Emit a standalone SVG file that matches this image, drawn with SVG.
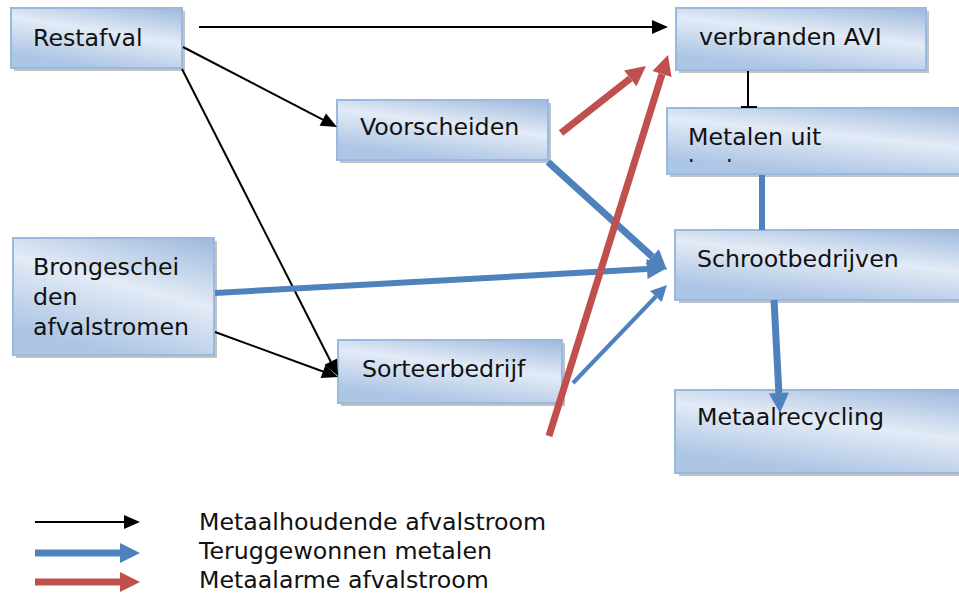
<svg xmlns="http://www.w3.org/2000/svg" width="959" height="594" viewBox="0 0 959 594">
<style>
  .box { fill: url(#gbox); stroke: #9ab9df; stroke-width: 2; }
  .shadow { fill: #8f8f8f; opacity: 0.55; }
  .lbl { font-family: "DejaVu Sans", Verdana, sans-serif; font-size: 23.7px; fill: #111; }
  .blk { stroke: #000; stroke-width: 2; fill: none; }
  .blu { stroke: #4f81bd; stroke-width: 7; fill: none; }
  .red { stroke: #c0504d; stroke-width: 7; fill: none; }
</style>
<defs>
  <linearGradient id="gbox" x1="1" y1="0" x2="0.55" y2="1">
    <stop offset="0" stop-color="#9db8dc"/>
    <stop offset="0.5" stop-color="#e3ebf6"/>
    <stop offset="1" stop-color="#aec6e5"/>
  </linearGradient>
  <marker id="mb" markerUnits="userSpaceOnUse" markerWidth="17" markerHeight="14" refX="0" refY="7" orient="auto" overflow="visible">
    <path d="M0,0 L16,7 L0,14 z" fill="#000"/>
  </marker>
  <marker id="mbl" markerUnits="userSpaceOnUse" markerWidth="20" markerHeight="20" refX="0" refY="10" orient="auto" overflow="visible">
    <path d="M0,0 L20,10 L0,20 z" fill="#4f81bd"/>
  </marker>
  <marker id="mbls" markerUnits="userSpaceOnUse" markerWidth="16" markerHeight="16" refX="0" refY="8" orient="auto" overflow="visible">
    <path d="M0,0 L16,8 L0,16 z" fill="#4f81bd"/>
  </marker>
  <marker id="mr" markerUnits="userSpaceOnUse" markerWidth="20" markerHeight="20" refX="0" refY="10" orient="auto" overflow="visible">
    <path d="M0,0 L20,10 L0,20 z" fill="#c0504d"/>
  </marker>
  <clipPath id="clipMet">
    <rect x="667" y="108" width="292" height="54"/>
  </clipPath>
</defs>

<g id="n-restafval">
  <rect class="shadow" x="14" y="11" width="171" height="60"/>
  <rect class="box" x="11" y="8" width="171" height="60"/>
  <text class="lbl" x="33" y="46">Restafval</text>
</g>
<g id="n-verbranden">
  <rect class="shadow" x="679" y="11" width="250" height="62"/>
  <rect class="box" x="676" y="8" width="250" height="62"/>
  <text class="lbl" x="699" y="45">verbranden AVI</text>
</g>
<g id="n-voorscheiden">
  <rect class="shadow" x="340" y="103" width="211" height="60"/>
  <rect class="box" x="337" y="100" width="211" height="60"/>
  <text class="lbl" x="360" y="135">Voorscheiden</text>
</g>
<g id="n-metalen">
  <rect class="shadow" x="670" y="111" width="292" height="66"/>
  <rect class="box" x="667" y="108" width="296" height="66"/>
  <text class="lbl" x="688" y="145">Metalen uit</text>
  <text class="lbl" x="688" y="177" clip-path="url(#clipMet)">bodemas</text>
</g>
<g id="n-brongescheiden">
  <rect class="shadow" x="16" y="241" width="201" height="117"/>
  <rect class="box" x="13" y="238" width="201" height="117"/>
  <text class="lbl" x="33" y="275">Brongeschei</text>
  <text class="lbl" x="33" y="305">den</text>
  <text class="lbl" x="33" y="335">afvalstromen</text>
</g>
<g id="n-sorteerbedrijf">
  <rect class="shadow" x="341" y="343" width="224" height="63"/>
  <rect class="box" x="338" y="340" width="224" height="63"/>
  <text class="lbl" x="362" y="377">Sorteerbedrijf</text>
</g>
<g id="n-schroot">
  <rect class="shadow" x="679" y="233" width="290" height="70"/>
  <rect class="box" x="675" y="230" width="290" height="70"/>
  <text class="lbl" x="697" y="267">Schrootbedrijven</text>
</g>
<g id="n-metaalrecycling">
  <rect class="shadow" x="679" y="393" width="290" height="83"/>
  <rect class="box" x="675" y="390" width="290" height="83"/>
  <text class="lbl" x="697" y="425">Metaalrecycling</text>
</g>

<g id="connectors">
  <line class="blk" x1="199" y1="27" x2="652" y2="27" marker-end="url(#mb)"/>
  <line class="blk" x1="183" y1="47" x2="322.8" y2="119.6" marker-end="url(#mb)"/>
  <line class="blk" x1="182" y1="69" x2="330.8" y2="361.7" marker-end="url(#mb)"/>
  <line class="blk" x1="215" y1="332" x2="323" y2="371.5" marker-end="url(#mb)"/>
  <line class="blk" x1="748" y1="71" x2="748" y2="107"/>
  <line class="blk" x1="741" y1="107" x2="757" y2="107"/>

  <line class="blu" x1="762" y1="175" x2="762" y2="230" style="stroke-width:6"/>
  <line class="blu" x1="548" y1="162" x2="652.2" y2="256.6" marker-end="url(#mbl)"/>
  <line class="blu" x1="215" y1="293" x2="647" y2="269.1" style="stroke-width:6" marker-end="url(#mbl)"/>
  <line class="blu" x1="573" y1="383" x2="655.9" y2="296.5" style="stroke-width:4" marker-end="url(#mbls)"/>
  <line class="blu" x1="774" y1="300" x2="778.9" y2="393" marker-end="url(#mbl)"/>

  <line class="red" x1="561" y1="133" x2="630.3" y2="78.4" marker-end="url(#mr)"/>
  <line class="red" x1="549" y1="436" x2="662" y2="74.1" marker-end="url(#mr)"/>
</g>

<g id="legend">
  <line class="blk" x1="35" y1="522" x2="124" y2="522" marker-end="url(#mb)"/>
  <line class="blu" x1="35" y1="553" x2="120" y2="553" marker-end="url(#mbl)"/>
  <line class="red" x1="35" y1="582" x2="120" y2="582" marker-end="url(#mr)"/>
  <text class="lbl" x="199" y="530">Metaalhoudende afvalstroom</text>
  <text class="lbl" x="199" y="559">Teruggewonnen metalen</text>
  <text class="lbl" x="199" y="588">Metaalarme afvalstroom</text>
</g>
</svg>
